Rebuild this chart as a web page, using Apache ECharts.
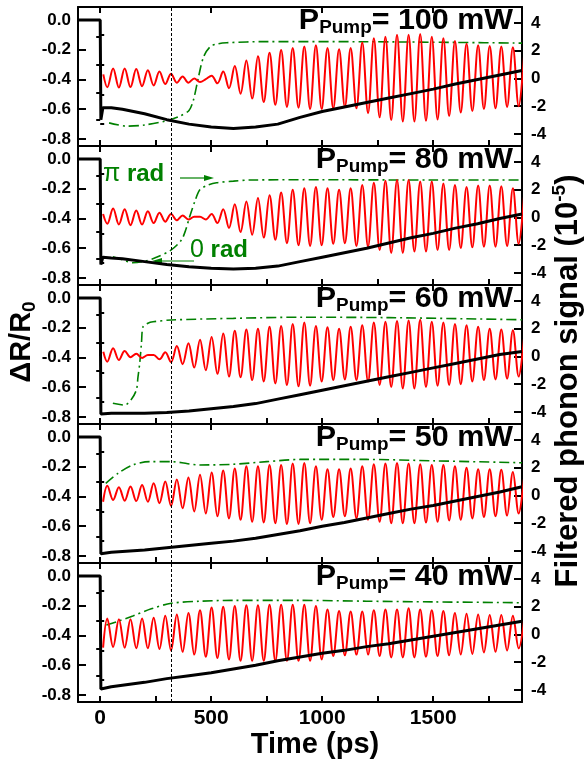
<!DOCTYPE html>
<html><head><meta charset="utf-8">
<script src="https://cdn.jsdelivr.net/npm/echarts@6/dist/echarts.min.js"></script>
<style>html,body{margin:0;padding:0;background:#fff}#c{width:586px;height:763px}</style>
</head><body><div id="c"></div>
<script>
// ---------- data ----------
const powers = ['100', '80', '60', '50', '40'];
const xTickLabels = [0, 500, 1000, 1500];
const xTicks = [0, 250, 500, 750, 1000, 1250, 1500, 1750];
const leftTicks = [-0.8, -0.6, -0.4, -0.2, 0];
const leftMinor = [-0.7, -0.5, -0.3, -0.1];
const rightTicks = [-4, -2, 0, 2, 4];
const rightMinor = [-3, -1, 1, 3];
const markerTime = 320;

// reflectivity traces (left axis)
const blackT = [-100, 0, 3, 12, 50, 100, 200, 300, 400, 500, 600, 700, 800, 900, 1000, 1100, 1200, 1300, 1400, 1500, 1600, 1700, 1800, 1900];
const black100 = [0, 0, -0.67, -0.59, -0.59, -0.60, -0.63, -0.67, -0.70, -0.72, -0.73, -0.72, -0.70, -0.655, -0.615, -0.585, -0.555, -0.525, -0.495, -0.465, -0.43, -0.40, -0.37, -0.34];
const black80 = [0, 0, -0.71, -0.66, -0.665, -0.67, -0.69, -0.71, -0.725, -0.735, -0.74, -0.735, -0.72, -0.69, -0.66, -0.63, -0.60, -0.565, -0.53, -0.50, -0.465, -0.435, -0.40, -0.37];
const black60 = [0, 0, -0.78, -0.775, -0.775, -0.775, -0.775, -0.77, -0.76, -0.745, -0.73, -0.71, -0.68, -0.65, -0.62, -0.59, -0.56, -0.53, -0.50, -0.47, -0.44, -0.41, -0.38, -0.36];
const black50 = [0, 0, -0.785, -0.78, -0.775, -0.77, -0.76, -0.745, -0.73, -0.715, -0.70, -0.68, -0.655, -0.63, -0.60, -0.575, -0.545, -0.515, -0.485, -0.46, -0.43, -0.40, -0.37, -0.335];
const black40 = [0, 0, -0.76, -0.755, -0.745, -0.735, -0.715, -0.69, -0.67, -0.65, -0.625, -0.60, -0.57, -0.545, -0.52, -0.50, -0.475, -0.455, -0.43, -0.405, -0.38, -0.355, -0.33, -0.305];

// filtered phonon signal (right axis): first point, then successive extrema
// read every half period (period read as ~52.2 ps, first extremum at 32 ps)
const redLead = [[14, 0.3], [13, 0.25], [14, 0.35], [13, -0.45], [13, -0.95]];
const redFirst = 32;
const redHalf = 26.1;
const red100 = [-0.63,0.72,-0.65,0.72,-0.62,0.68,-0.55,0.6,-0.5,0.5,
 -0.4,0.35,-0.3,0.15,-0.3,0.0,-0.25,-0.05,0.2,-0.35,
 0.5,-0.7,0.9,-1.1,1.3,-1.45,1.6,-1.7,1.85,-1.9,
 2.05,-2.05,2.2,-2.1,2.3,-2.2,2.4,-2.2,2.2,-2.15,
 2.1,-2.05,2.2,-2.15,2.6,-2.5,2.9,-2.8,3.0,-3.0,
 3.15,-3.1,3.15,-3.1,3.2,-3.05,3.0,-2.95,2.9,-2.7,
 2.7,-2.45,2.5,-2.35,2.4,-2.2,2.35,-2.15,2.3,-2.05,
 2.25,-2.0,2.1];
const red80 = [-0.45,0.65,-0.5,0.6,-0.55,0.5,-0.5,0.45,-0.4,0.35,
 -0.3,0.25,-0.2,0.15,-0.15,0.05,0.05,-0.15,0.25,-0.4,
 0.6,-0.75,0.95,-1.05,1.15,-1.25,1.4,-1.45,1.6,-1.6,
 1.8,-1.85,2.0,-2.0,2.1,-2.05,2.2,-2.0,2.1,-1.9,
 2.0,-1.85,2.1,-2.05,2.35,-2.1,2.5,-2.35,2.65,-2.55,
 2.7,-2.55,2.7,-2.45,2.6,-2.45,2.6,-2.35,2.45,-2.35,
 2.35,-2.2,2.2,-2.15,2.3,-2.1,2.3,-2.1,2.25,-2.05,
 2.1,-1.9,2.0];
const red60 = [-0.37,0.6,-0.25,0.4,-0.05,0.2,-0.1,0.1,0.1,-0.2,
 0.3,-0.4,0.75,-0.55,0.95,-0.8,1.2,-1.0,1.4,-1.25,
 1.65,-1.45,1.85,-1.5,1.95,-1.7,2.0,-1.8,2.15,-1.95,
 2.2,-2.05,2.35,-2.15,2.45,-2.1,2.2,-1.8,2.1,-1.7,
 2.0,-1.65,2.15,-1.7,2.25,-1.8,2.45,-2.05,2.5,-2.2,
 2.55,-2.3,2.6,-2.3,2.65,-2.2,2.5,-2.1,2.45,-2.05,
 2.35,-2.0,2.25,-1.8,2.15,-1.7,2.0,-1.65,1.95,-1.6,
 1.9,-1.45,1.7];
const red50 = [0.7,-0.32,0.6,-0.37,0.65,-0.4,0.75,-0.45,0.88,-0.55,
 1.0,-0.75,1.15,-0.92,1.3,-1.15,1.5,-1.3,1.65,-1.5,
 1.8,-1.65,1.95,-1.75,2.1,-1.9,2.1,-1.95,2.2,-2.0,
 2.2,-2.05,2.3,-2.05,2.35,-2.0,2.1,-1.75,1.9,-1.55,
 1.9,-1.5,1.95,-1.65,2.1,-1.75,2.25,-1.9,2.3,-2.0,
 2.35,-2.0,2.3,-2.0,2.25,-1.95,2.2,-1.9,2.2,-1.8,
 2.1,-1.75,2.0,-1.65,1.9,-1.55,1.9,-1.5,1.85,-1.45,
 1.7,-1.3,1.6];
const red40 = [1.15,-0.9,1.1,-0.95,1.1,-1.0,1.15,-1.0,1.2,-1.05,
 1.35,-1.15,1.45,-1.25,1.55,-1.45,1.75,-1.6,1.95,-1.7,
 2.0,-1.8,2.05,-1.9,2.1,-1.9,2.1,-1.9,2.15,-1.9,
 2.15,-1.9,2.15,-1.9,2.15,-1.9,2.05,-1.8,1.8,-1.55,
 1.7,-1.5,1.65,-1.45,1.65,-1.45,1.75,-1.55,1.8,-1.65,
 1.8,-1.65,1.9,-1.65,1.8,-1.6,1.75,-1.55,1.7,-1.5,
 1.55,-1.45,1.5,-1.4,1.45,-1.3,1.4,-1.25,1.4,-1.15,
 1.35,-1.0,1.3];

// phase traces (green dash-dot, drawn on right axis scale)
const green100T = [40, 120, 200, 300, 360, 400, 420, 443, 466, 496, 530, 570, 750, 1200, 1600, 1900];
const green100V = [-3.2, -3.43, -3.35, -3.04, -2.7, -2.3, -1.55, 0.13, 1.57, 2.3, 2.5, 2.58, 2.66, 2.65, 2.6, 2.55];
const green80T = [57, 100, 147, 200, 253, 320, 366, 385, 403, 425, 448, 480, 524, 600, 673, 1000, 1500, 1900];
const green80V = [-2.83, -3.05, -3.26, -3.15, -2.87, -2.34, -1.62, -0.9, 0.06, 1.1, 1.98, 2.3, 2.5, 2.62, 2.7, 2.72, 2.7, 2.7];
const green60T = [57, 110, 140, 163, 170, 178, 186, 193, 215, 238, 320, 600, 900, 1300, 1900];
const green60V = [-3.37, -3.5, -3.1, -2.41, -1.5, -0.49, 1.0, 2.15, 2.4, 2.5, 2.63, 2.75, 2.83, 2.8, 2.65];
const green50T = [25, 80, 147, 223, 320, 448, 597, 750, 900, 1200, 1500, 1900];
const green50V = [0.88, 1.6, 2.2, 2.44, 2.44, 2.2, 2.25, 2.44, 2.6, 2.6, 2.5, 2.36];
const green40T = [28, 80, 147, 230, 320, 450, 597, 900, 1200, 1500, 1900];
const green40V = [0.68, 0.95, 1.33, 1.85, 2.25, 2.4, 2.46, 2.46, 2.4, 2.35, 2.29];

// ---------- chart ----------
const FONT = '"Liberation Sans", Arial, Helvetica, sans-serif';
const panels = [
  {p: powers[0], black: black100, red: red100, lead: redLead[0], gT: green100T, gV: green100V},
  {p: powers[1], black: black80, red: red80, lead: redLead[1], gT: green80T, gV: green80V},
  {p: powers[2], black: black60, red: red60, lead: redLead[2], gT: green60T, gV: green60V},
  {p: powers[3], black: black50, red: red50, lead: redLead[3], gT: green50T, gV: green50V},
  {p: powers[4], black: black40, red: red40, lead: redLead[4], gT: green40T, gV: green40V}
];
const L = 78, R = 64, TOP0 = 7, PH = 139;
const XMIN = -100, XMAX = 1900;
const LMIN = -0.847, LMAX = 0.087, RMIN = -4.865, RMAX = 5.153;
const AX = {color: '#000', width: 2};
const grids = [], xAxes = [], yAxes = [], series = [], graphic = [];

panels.forEach((pn, i) => {
  const top = TOP0 + i * PH;
  const last = i === panels.length - 1;
  grids.push({left: L, right: R, top: top, height: PH, containLabel: false, outerBoundsMode: 'none'});
  xAxes.push({type: 'value', gridIndex: i, position: 'bottom', min: XMIN, max: XMAX,
    axisLine: {show: true, onZero: false, lineStyle: AX},
    axisTick: {show: true, inside: true, length: 6, lineStyle: AX, customValues: xTicks},
    axisLabel: {show: last, customValues: xTickLabels, formatter: v => String(v), color: '#000', fontSize: 21, fontWeight: 'bold', fontFamily: FONT, margin: 6},
    splitLine: {show: false}});
  xAxes.push({type: 'value', gridIndex: i, position: 'top', min: XMIN, max: XMAX,
    axisLine: {show: true, onZero: false, lineStyle: AX},
    axisTick: {show: true, inside: true, length: 6, lineStyle: AX, customValues: xTickLabels},
    axisLabel: {show: false}, splitLine: {show: false}});
  yAxes.push({type: 'value', gridIndex: i, position: 'left', min: LMIN, max: LMAX,
    axisLine: {show: true, onZero: false, lineStyle: AX},
    axisTick: {show: true, inside: true, length: 8, lineStyle: AX, customValues: leftTicks},
    axisLabel: {show: true, customValues: leftTicks, formatter: v => v.toFixed(1), color: '#000', fontSize: 17, fontWeight: 'bold', fontFamily: FONT, margin: 7},
    splitLine: {show: false}});
  yAxes.push({type: 'value', gridIndex: i, position: 'left', min: LMIN, max: LMAX,
    axisLine: {show: false},
    axisTick: {show: true, inside: true, length: 4, lineStyle: AX, customValues: leftMinor},
    axisLabel: {show: false}, splitLine: {show: false}});
  yAxes.push({type: 'value', gridIndex: i, position: 'right', min: RMIN, max: RMAX,
    axisLine: {show: true, onZero: false, lineStyle: AX},
    axisTick: {show: true, inside: true, length: 8, lineStyle: AX, customValues: rightTicks},
    axisLabel: {show: true, customValues: rightTicks, formatter: v => String(v), color: '#000', fontSize: 17, fontWeight: 'bold', fontFamily: FONT, margin: 9},
    splitLine: {show: false}});
  yAxes.push({type: 'value', gridIndex: i, position: 'right', min: RMIN, max: RMAX,
    axisLine: {show: false},
    axisTick: {show: true, inside: true, length: 4, lineStyle: AX, customValues: rightMinor},
    axisLabel: {show: false}, splitLine: {show: false}});

  series.push({type: 'line', xAxisIndex: 2 * i, yAxisIndex: 4 * i + 2, silent: true,
    data: pn.gT.map((t, k) => [t, pn.gV[k]]), smooth: 0.3, symbol: 'none', z: 2,
    lineStyle: {color: '#008000', width: 1.6, type: [10, 4, 2, 4]}});
  const redData = [pn.lead].concat(pn.red.map((v, n) => [redFirst + n * redHalf, v]));
  series.push({type: 'line', xAxisIndex: 2 * i, yAxisIndex: 4 * i + 2, silent: true,
    data: redData, smooth: 0.36, symbol: 'none', z: 3, clip: true,
    lineStyle: {color: '#ff0000', width: 2}});
  series.push({type: 'line', xAxisIndex: 2 * i, yAxisIndex: 4 * i, silent: true,
    data: blackT.map((t, k) => [t, pn.black[k]]), symbol: 'none', z: 4,
    lineStyle: {color: '#000', width: 3},
    markLine: {silent: true, symbol: ['none', 'none'], label: {show: false}, animation: false,
      lineStyle: {color: '#000', width: 1, type: [3, 2]}, data: [{xAxis: markerTime}]}});

  graphic.push({type: 'text', right: 73, top: top - 1, scaleX: 1.05, silent: true,
    style: {text: '{a|P}{b|Pump}{a|= ' + pn.p + ' mW}',
      rich: {a: {fontSize: 29, fontWeight: 'bold', fontFamily: FONT, fill: '#000', lineHeight: 34},
             b: {fontSize: 18, fontWeight: 'bold', fontFamily: FONT, fill: '#000', lineHeight: 18, verticalAlign: 'bottom'}}}});
});

// annotations in the 80 mW panel
const G = '#008000';
graphic.push({type: 'text', x: 103, y: 174, silent: true,
  style: {text: '{n|π}{b| rad}', verticalAlign: 'middle', textVerticalAlign: 'middle',
    rich: {n: {fontSize: 25, fontFamily: FONT, fill: G}, b: {fontSize: 24, fontWeight: 'bold', fontFamily: FONT, fill: G}}}});
graphic.push({type: 'text', x: 190, y: 250, silent: true,
  style: {text: '{n|0}{b| rad}', verticalAlign: 'middle', textVerticalAlign: 'middle',
    rich: {n: {fontSize: 25, fontFamily: FONT, fill: G}, b: {fontSize: 24, fontWeight: 'bold', fontFamily: FONT, fill: G}}}});
graphic.push({type: 'line', silent: true, shape: {x1: 180, y1: 178, x2: 206, y2: 178}, style: {stroke: G, lineWidth: 1.2}});
graphic.push({type: 'polygon', silent: true, shape: {points: [[214, 178], [204, 175], [204, 181]]}, style: {fill: G}});
graphic.push({type: 'line', silent: true, shape: {x1: 194, y1: 261, x2: 160, y2: 261}, style: {stroke: G, lineWidth: 1.2}});
graphic.push({type: 'polygon', silent: true, shape: {points: [[152, 261], [162, 258], [162, 264]]}, style: {fill: G}});

// axis titles
graphic.push({type: 'text', x: 22, y: 342, rotation: Math.PI / 2, silent: true,
  style: {text: '{a|ΔR/R}{b|0}', align: 'center', textAlign: 'center', verticalAlign: 'middle', textVerticalAlign: 'middle',
    rich: {a: {fontSize: 29, fontWeight: 'bold', fontFamily: FONT, fill: '#000', lineHeight: 34},
           b: {fontSize: 19, fontWeight: 'bold', fontFamily: FONT, fill: '#000', lineHeight: 20, verticalAlign: 'bottom'}}}});
graphic.push({type: 'text', x: 568, y: 381, rotation: Math.PI / 2, silent: true,
  style: {text: '{a|Filtered phonon signal (10}{s|-5}{a|)}', align: 'center', textAlign: 'center', verticalAlign: 'middle', textVerticalAlign: 'middle',
    rich: {a: {fontSize: 31, fontWeight: 'bold', fontFamily: FONT, fill: '#000', lineHeight: 36},
           s: {fontSize: 19, fontWeight: 'bold', fontFamily: FONT, fill: '#000', lineHeight: 20, verticalAlign: 'top'}}}});
graphic.push({type: 'text', x: 315, y: 745, silent: true,
  style: {text: 'Time (ps)', fontSize: 29, fontWeight: 'bold', fontFamily: FONT, fill: '#000',
    align: 'center', textAlign: 'center', verticalAlign: 'middle', textVerticalAlign: 'middle'}});

const chart = echarts.init(document.getElementById('c'), null, {renderer: 'canvas'});
chart.setOption({animation: false, backgroundColor: '#fff', grid: grids, xAxis: xAxes, yAxis: yAxes, series: series, graphic: graphic});
</script></body></html>
